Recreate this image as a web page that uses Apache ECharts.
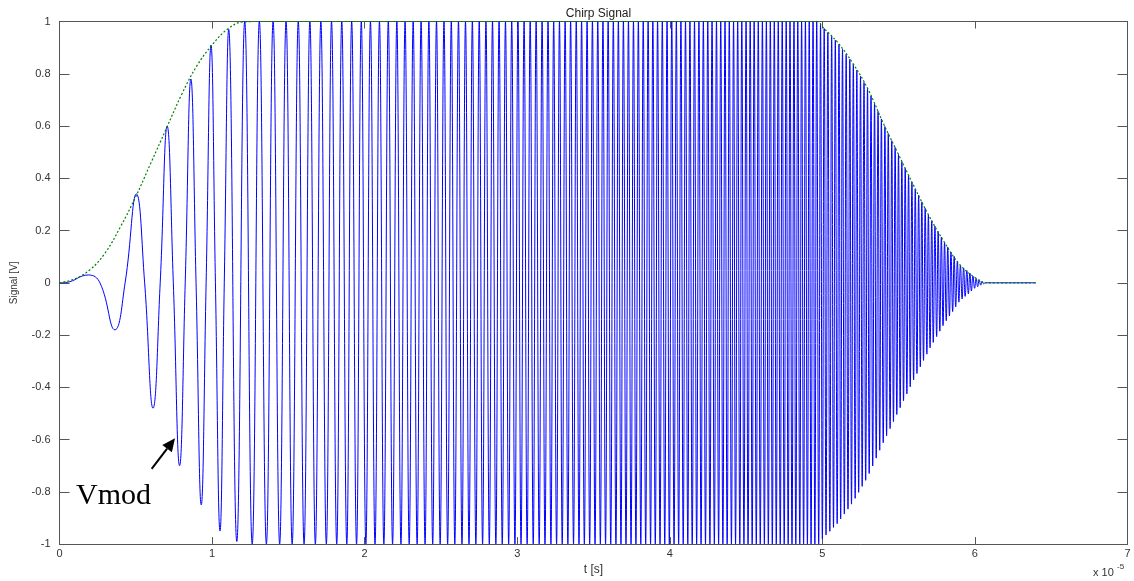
<!DOCTYPE html>
<html>
<head>
<meta charset="utf-8">
<script src="https://cdn.jsdelivr.net/npm/echarts@6/dist/echarts.min.js"></script>
<style>
html,body{margin:0;padding:0;background:#fff;}
#c{width:1134px;height:581px;}
</style>
</head>
<body>
<div id="c"></div>
<script>
// Chirp signal, time in units of 1e-5 s. Extrema (and early zero crossings).
const riseT = [0,0.04,0.19,0.265,0.363,0.43,0.504,0.558,0.613,0.66,0.7055,0.746,0.787,0.824,0.861,0.895,0.929,0.961,0.993,1.022,1.052,1.08,1.109,1.162,1.214];
const riseV = [0,0.001,0.03,0,-0.18,0,0.34,0,-0.48,0,0.6,0,-0.7,0,0.78,0,-0.85,0,0.91,0,-0.95,0,0.97,-0.99,1];

const midT = [
1.263,1.310,1.356,1.400,1.443,1.485,1.525,1.565,1.603,1.641,
1.677,1.713,1.749,1.783,1.817,1.850,1.883,1.915,1.947,1.978,
2.008,2.038,2.068,2.097,2.126,2.155,2.183,2.211,2.238,2.265,
2.292,2.318,2.344,2.370,2.396,2.421,2.446,2.471,2.495,2.520,
2.544,2.568,2.591,2.615,2.638,2.661,2.684,2.706,2.729,2.751,
2.773,2.795,2.817,2.838,2.860,2.881,2.902,2.923,2.944,2.964,
2.985,3.005,3.025,3.045,3.065,3.085,3.105,3.124,3.144,3.163,
3.182,3.202,3.221,3.239,3.258,3.277,3.295,3.314,3.332,3.350,
3.369,3.387,3.405,3.422,3.440,3.458,3.475,3.493,3.510,3.528,
3.545,3.562,3.579,3.596,3.613,3.630,3.647,3.663,3.680,3.696,
3.713,3.729,3.746,3.762,3.778,3.794,3.810,3.826,3.842,3.858,
3.874,3.889,3.905,3.920,3.936,3.951,3.967,3.982,3.997,4.013,
4.028,4.043,4.058,4.073,4.088,4.103,4.118,4.132,4.147,4.162,
4.176,4.191,4.205,4.220,4.234,4.249,4.263,4.277,4.292,4.306,
4.320,4.334,4.348,4.362,4.376,4.390,4.404,4.418,4.431,4.445,
4.459,4.472,4.486,4.500,4.513,4.527,4.540,4.553,4.567,4.580,
4.593,4.607,4.620,4.633,4.646,4.659,4.672,4.685,4.698,4.711,
4.724,4.737,4.750,4.763,4.776,4.788,4.801,4.814,4.826,4.839,
4.852,4.864,4.877,4.889,4.902,4.914,4.926,4.939,4.951,4.963,
4.976];
const midV = [
-1,1,-1,1,-1,1,-1,1,-1,1,
-1,1,-1,1,-1,1,-1,1,-1,1,
-1,1,-1,1,-1,1,-1,1,-1,1,
-1,1,-1,1,-1,1,-1,1,-1,1,
-1,1,-1,1,-1,1,-1,1,-1,1,
-1,1,-1,1,-1,1,-1,1,-1,1,
-1,1,-1,1,-1,1,-1,1,-1,1,
-1,1,-1,1,-1,1,-1,1,-1,1,
-1,1,-1,1,-1,1,-1,1,-1,1,
-1,1,-1,1,-1,1,-1,1,-1,1,
-1,1,-1,1,-1,1,-1,1,-1,1,
-1,1,-1,1,-1,1,-1,1,-1,1,
-1,1,-1,1,-1,1,-1,1,-1,1,
-1,1,-1,1,-1,1,-1,1,-1,1,
-1,1,-1,1,-1,1,-1,1,-1,1,
-1,1,-1,1,-1,1,-1,1,-1,1,
-1,1,-1,1,-1,1,-1,1,-1,1,
-1,1,-1,1,-1,1,-1,1,-1,1,
-1,1,-1,1,-1,1,-1,1,-1,1,
-1];

const fallT = [
4.988,5.000,5.012,5.024,5.036,5.049,5.061,5.073,5.085,5.097,
5.109,5.120,5.132,5.144,5.156,5.168,5.180,5.191,5.203,5.215,
5.226,5.238,5.250,5.261,5.273,5.284,5.296,5.307,5.319,5.330,
5.342,5.353,5.365,5.376,5.387,5.399,5.410,5.421,5.432,5.444,
5.455,5.466,5.477,5.488,5.499,5.510,5.521,5.532,5.543,5.554,
5.565,5.576,5.587,5.598,5.609,5.620,5.631,5.642,5.652,5.663,
5.674,5.685,5.695,5.706,5.717,5.727,5.738,5.749,5.759,5.770,
5.780,5.791,5.801,5.812,5.822,5.833,5.843,5.854,5.864,5.874,
5.885,5.895,5.905,5.916,5.926,5.936,5.947,5.957,5.967,5.977,
5.987,5.998,6.008,6.018,6.028,6.038,6.048,6.058,6.068,
6.080,6.400];
const fallV = [
0.99,-0.98,0.973,-0.965,0.958,-0.951,0.944,-0.936,0.929,-0.922,
0.913,-0.904,0.894,-0.885,0.875,-0.866,0.856,-0.847,0.837,-0.825,
0.814,-0.802,0.79,-0.779,0.767,-0.756,0.744,-0.73,0.715,-0.701,
0.686,-0.671,0.656,-0.641,0.627,-0.612,0.598,-0.585,0.571,-0.558,
0.544,-0.531,0.518,-0.504,0.491,-0.478,0.464,-0.451,0.438,-0.425,
0.412,-0.398,0.385,-0.372,0.36,-0.347,0.335,-0.322,0.31,-0.297,
0.285,-0.273,0.26,-0.249,0.238,-0.228,0.217,-0.206,0.196,-0.185,
0.175,-0.164,0.154,-0.145,0.136,-0.127,0.118,-0.11,0.101,-0.092,
0.083,-0.074,0.067,-0.062,0.057,-0.052,0.047,-0.042,0.037,-0.031,
0.026,-0.021,0.017,-0.015,0.012,-0.009,0.006,-0.004,0.001,
0,0];

// Envelope (green dotted)
const envT = [0,0.1,0.2,0.3,0.4,0.5,0.6,0.7,0.8,0.9,1.0,1.1,1.2,1.3,4.9,4.97,5.0,5.1,5.2,5.3,5.4,5.5,5.6,5.7,5.8,5.9,6.0,6.07,6.4];
const envV = [0,0.015,0.05,0.115,0.215,0.33,0.46,0.59,0.72,0.83,0.91,0.97,0.998,1,1,1,0.98,0.92,0.84,0.74,0.61,0.49,0.37,0.255,0.155,0.07,0.02,0,0];

const xTicks = [0,1,2,3,4,5,6,7];
const yTicks = [-1,-0.8,-0.6,-0.4,-0.2,0,0.2,0.4,0.6,0.8,1];

// annotation anchors in data coords
const annoText = [0.108, -0.875];
const arrowFrom = [0.604, -0.712];
const arrowTo = [0.757, -0.595];

const sigT = riseT.concat(midT, fallT);
const sigV = riseV.concat(midV, fallV);
const sigData = sigT.map((t, i) => [t, sigV[i]]);
const envData = envT.map((t, i) => [t, envV[i]]);

const FONT = 'Liberation Sans, Arial, sans-serif';
const AX = '#555';
const LBL = '#333';

const chart = echarts.init(document.getElementById('c'), null, {renderer: 'canvas'});

const baseX = {
  type: 'value', min: xTicks[0], max: xTicks[xTicks.length-1], interval: 1,
  axisLine: {show: true, onZero: false, lineStyle: {color: AX, width: 1}},
  axisTick: {show: true, inside: true, length: 7, lineStyle: {color: AX}},
  splitLine: {show: false}
};
const baseY = {
  type: 'value', min: yTicks[0], max: yTicks[yTicks.length-1], interval: 0.2,
  axisLine: {show: true, onZero: false, lineStyle: {color: AX, width: 1}},
  axisTick: {show: true, inside: true, length: 10, lineStyle: {color: AX}},
  splitLine: {show: false}
};

chart.setOption({
  animation: false,
  backgroundColor: '#fff',
  title: {
    text: 'Chirp Signal', left: 593.5, top: 3, textAlign: 'center',
    textStyle: {fontFamily: FONT, fontSize: 12, fontWeight: 'normal', color: '#222'}
  },
  grid: {left: 59.5, right: 6.5, top: 21.5, bottom: 32.5, containLabel: false},
  xAxis: [
    Object.assign({}, baseX, {
      position: 'bottom',
      name: 't [s]', nameLocation: 'middle', nameGap: 14,
      nameTextStyle: {fontFamily: FONT, fontSize: 12, color: LBL},
      axisLabel: {show: true, margin: 4, fontFamily: FONT, fontSize: 11, color: LBL}
    }),
    Object.assign({}, baseX, {position: 'top', axisLabel: {show: false}})
  ],
  yAxis: [
    Object.assign({}, baseY, {
      position: 'left',
      name: 'Signal [V]', nameLocation: 'middle', nameGap: 40, nameRotate: 90,
      nameTextStyle: {fontFamily: 'Liberation Sans Narrow, ' + FONT, fontSize: 10, color: LBL},
      axisLabel: {show: true, margin: 9, fontFamily: FONT, fontSize: 11, color: LBL}
    }),
    Object.assign({}, baseY, {position: 'right', axisLabel: {show: false}})
  ],
  series: [
    {
      type: 'line', name: 'Vmod', xAxisIndex: 0, yAxisIndex: 0,
      data: sigData, showSymbol: false, symbol: 'none', smooth: 0.45,
      clip: true,
      lineStyle: {color: '#0000ff', width: 1},
      z: 2
    },
    {
      type: 'line', name: 'envelope', xAxisIndex: 0, yAxisIndex: 0,
      data: envData, showSymbol: false, symbol: 'none', smooth: 0.4,
      clip: true,
      lineStyle: {color: '#008000', width: 1.2, type: [2, 2]},
      z: 3
    }
  ]
});

function px(p) { return chart.convertToPixel({gridIndex: 0}, p); }
const a0 = px(arrowFrom), a1 = px(arrowTo), tp = px(annoText);
const dx = a1[0]-a0[0], dy = a1[1]-a0[1];
const L = Math.sqrt(dx*dx+dy*dy), ux = dx/L, uy = dy/L;
const headLen = 13, headW = 6;
const bx = a1[0]-ux*headLen, by = a1[1]-uy*headLen;
chart.setOption({
  graphic: [
    {type: 'line', shape: {x1: a0[0], y1: a0[1], x2: bx, y2: by}, style: {stroke: '#000', lineWidth: 2}, z: 10},
    {type: 'polygon', shape: {points: [[a1[0], a1[1]], [bx - uy*headW, by + ux*headW], [bx + uy*headW, by - ux*headW]]}, style: {fill: '#000'}, z: 10},
    {type: 'text', x: tp[0], y: tp[1], style: {text: 'Vmod', fontFamily: 'Liberation Serif, Times New Roman, serif', fontSize: 30, fill: '#000', textVerticalAlign: 'bottom', verticalAlign: 'bottom'}, z: 10},
    {type: 'text', x: 1093, y: 567, style: {text: 'x 10', fontFamily: FONT, fontSize: 11, fill: LBL}, z: 10},
    {type: 'text', x: 1117, y: 563, style: {text: '-5', fontFamily: FONT, fontSize: 8, fill: LBL}, z: 10}
  ]
});
</script>
</body>
</html>
